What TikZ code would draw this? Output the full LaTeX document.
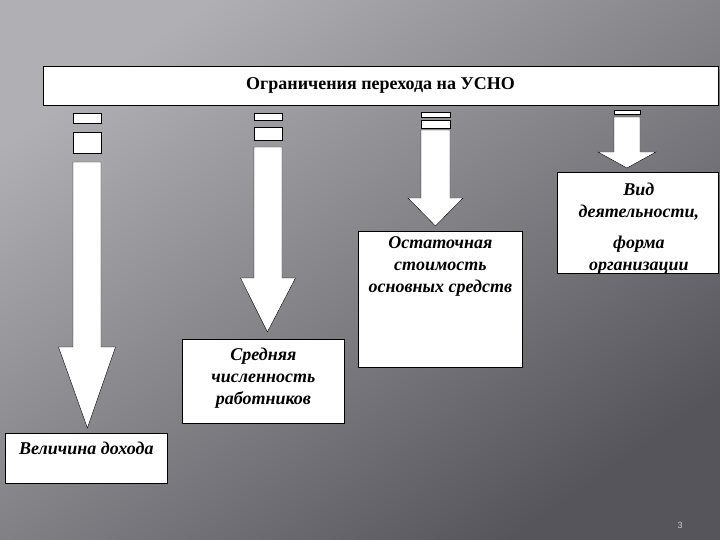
\documentclass[tikz,border=0pt]{standalone}
\usepackage{fontspec}
\setmainfont{Liberation Serif}
\setsansfont{Liberation Sans}
\usetikzlibrary{calc}

\definecolor{bglight}{HTML}{B0B0B4}
\definecolor{bgmid}{HTML}{6A6A70}
\definecolor{bgdark}{HTML}{55555B}

\tikzset{
  box/.style={draw, thick, fill=white, inner sep=0pt},
  boxtext/.style={align=center, font=\bfseries\itshape\fontsize{18}{22}\selectfont},
  blockarrow/.style={draw, fill=white, line join=miter},
  stripe/.style={draw, fill=white}
}

\begin{document}
\begin{tikzpicture}[x=1pt, y=-1pt]
  \useasboundingbox (0,0) rectangle (720,540);
  \shade[top color=bglight, middle color=bgmid, bottom color=bgdark, shading angle=35]
    (0,0) rectangle (720,540);

  % title
  \node[box, minimum width=675pt, minimum height=39pt,
        font=\bfseries\fontsize{18}{20}\selectfont] (title) at (380.5,85.5)
    {Ограничения перехода на УСНО};

  % boxes
  \node[box, minimum width=162pt, minimum height=50pt, anchor=north west] (dohod) at (5,433) {};
  \node[boxtext, anchor=north] (dohodt) at ($(dohod.north)+(0,5)$) {Величина дохода};

  \node[box, minimum width=162pt, minimum height=84pt, anchor=north west] (chislen) at (182,339) {};
  \node[boxtext] (chislent) at ($(chislen.center)+(0,-3)$) {Средняя\\численность\\работников};

  \node[box, minimum width=164pt, minimum height=136pt, anchor=north west] (ostatok) at (358,231) {};
  \node[boxtext, anchor=north] (ostatokt) at ($(ostatok.north)+(0,2)$) {Остаточная\\стоимость\\основных средств};

  \node[box, minimum width=161pt, minimum height=101pt, anchor=north west] (vid) at (557,172) {};
  \node[boxtext, anchor=north] (vidt) at ($(vid.north)+(1,7)$)
    {Вид\\деятельности,\\[9pt]форма\\организации};

  % arrow tips
  \coordinate (tipA) at ($(dohod.north)+(1,-5)$);
  \coordinate (tipB) at ($(chislen.north)+(4,-7)$);
  \coordinate (tipC) at ($(ostatok.north)+(-5,-5)$);
  \coordinate (tipD) at ($(vid.north)+(-11,-4)$);

  % stripes
  \draw[stripe] (73,113) rectangle (101,123);
  \draw[stripe] (73,132) rectangle (101,153);
  \draw[stripe] (254,113) rectangle (282,120);
  \draw[stripe] (254,127) rectangle (282,140);
  \draw[stripe] (421,112) rectangle (450,117);
  \draw[stripe] (421,120) rectangle (450,128);
  \draw[stripe] (614,110) rectangle (640,114);

  % block arrows
  \foreach \cx/\w/\hw/\ytop/\yhead/\tip in {87/14/28.5/162/347/tipA,
                                             268/14/27.5/147/278/tipB,
                                             435.5/14.5/27.5/130/198/tipC,
                                             627/13/29/117/152/tipD}
    \draw[blockarrow] (\cx-\w,\ytop) -- (\cx+\w,\ytop) -- (\cx+\w,\yhead)
      -- (\cx+\hw,\yhead) -- (\tip) -- (\cx-\hw,\yhead) -- (\cx-\w,\yhead) -- cycle;

  % page number
  \node[font=\sffamily\fontsize{9}{10}\selectfont, text=gray!40] (page) at (680,525) {3};
\end{tikzpicture}
\end{document}
